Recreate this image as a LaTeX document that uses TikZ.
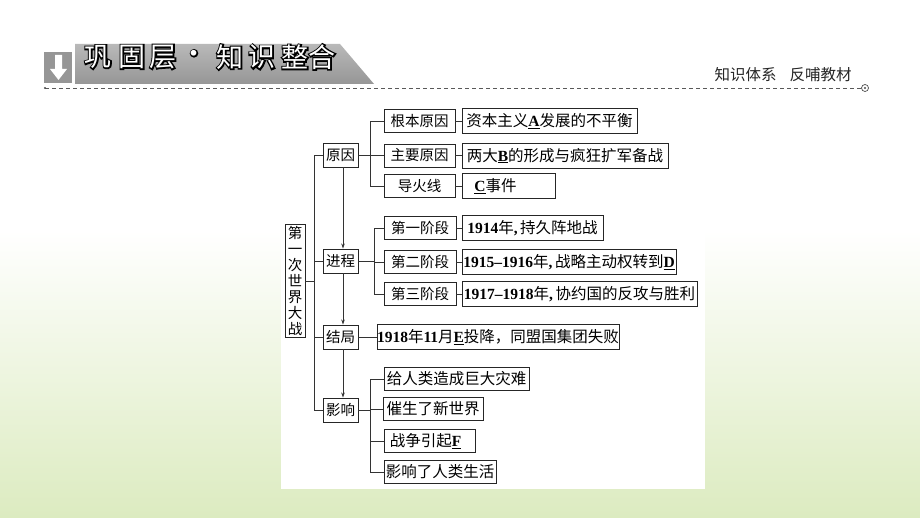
\documentclass[tikz,border=0pt]{standalone}
\usepackage{fontspec}
\setmainfont{Noto Sans CJK SC}
\newfontfamily\srf{Liberation Serif}
\newfontfamily\hdb[FakeBold=10]{Noto Sans CJK SC}
\newfontfamily\hdw{Noto Sans CJK SC}
\usetikzlibrary{arrows.meta}
\newcommand\ls[1]{{\srf\bfseries #1}}
\definecolor{bgG}{RGB}{220,235,192}
\definecolor{bnA}{RGB}{185,185,185}
\definecolor{bnB}{RGB}{150,150,150}
\tikzset{
  bx/.style={draw=black!85, line width=0.9pt, fill=white, inner sep=0pt, font=\fontsize{14.5}{16}\selectfont},
  dt/.style={bx, font=\fontsize{15.5}{17}\selectfont},
  ln/.style={draw=black!80, line width=0.8pt},
  arr/.style={ln, -{Stealth[length=5pt,width=3.5pt]}},
  hdc/.style={inner sep=0pt, font=\fontsize{27}{30}\selectfont}
}
\begin{document}
\begin{tikzpicture}[x=1pt,y=-1pt]
\useasboundingbox (0,0) rectangle (920,518);
% background
\fill[white] (0,0) rectangle (920,518);
\shade[top color=white, bottom color=bgG] (0,230) rectangle (920,518);
\fill[white] (281,100) rectangle (705,489);

% header
\fill[bnB] (44,52) rectangle (72,83);
\fill[white] (55,55) rectangle (62,69) (50,69) -- (67,69) -- (58.5,80) -- cycle;
\shade[top color=bnA, bottom color=bnB] (75,44) -- (340,44) -- (374,84) -- (75,84) -- cycle;
\foreach \c/\x in {巩/98,固/132,层/163,·/194,知/230,识/262,整/295,合/322}{
  \node[hdc, text=black] (hb\x) at (\x,57) {\hdb \c};
  \node[hdc, text=white] (hw\x) at (\x,57) {\hdw \c};
}
\node[inner sep=0pt, text=black!85, font=\fontsize{15.5}{17}\selectfont] (hr) at (783,75) {知识体系\hspace{13pt}反哺教材};
\coordinate (dl) at (45,88);
\coordinate (dr) at (861,88);
\draw[black!65, line width=0.8pt, dash pattern=on 4pt off 3pt] (dl) -- (dr);
\fill[black!70] (dl) circle (1.2);
\draw[black!70, line width=0.7pt] (865,88) circle (3.5);
\fill[black!70] (865,88) circle (1.2);

% diagram nodes
\node[bx, minimum width=20, minimum height=113, align=center, font=\fontsize{14.5}{15.9}\selectfont] (root) at (295,281) {第\\一\\次\\世\\界\\大\\战};
\node[bx, minimum width=35, minimum height=24] (yy) at (340.5,155) {原因};
\node[bx, minimum width=35, minimum height=24] (jc) at (340.5,261) {进程};
\node[bx, minimum width=35, minimum height=24] (jg) at (340.5,337) {结局};
\node[bx, minimum width=35, minimum height=24] (yx) at (340.5,410) {影响};

\node[bx, minimum width=71, minimum height=23] (gb) at (419.5,121) {根本原因};
\node[bx, minimum width=71, minimum height=23] (zy) at (419.5,155.5) {主要原因};
\node[bx, minimum width=71, minimum height=23] (dh) at (419.5,186) {导火线};
\node[bx, minimum width=72, minimum height=23] (d1) at (420,228) {第一阶段};
\node[bx, minimum width=72, minimum height=23] (d2) at (420,262) {第二阶段};
\node[bx, minimum width=72, minimum height=23] (d3) at (420,294) {第三阶段};

\node[dt, minimum width=175, minimum height=25] (zA) at (549.5,121) {资本主义\ls{\underline{A}}发展的不平衡};
\node[dt, minimum width=206, minimum height=25] (zB) at (565,155.5) {两大\ls{\underline{B}}的形成与疯狂扩军备战};
\node[dt, minimum width=93, minimum height=25] (zC) at (508.5,186) {\ls{\underline{C}}事件\hspace*{26pt}};
\node[dt, minimum width=141, minimum height=25] (p1) at (532.5,228) {\ls{1914}年\ls{,\,}持久阵地战};
\node[dt, minimum width=214, minimum height=25] (p2) at (569,262) {\ls{1915–1916}年\ls{,\,}战略主动权转到\ls{\underline{D}}};
\node[dt, minimum width=235, minimum height=25] (p3) at (579.5,294) {\ls{1917–1918}年\ls{,\,}协约国的反攻与胜利};
\node[dt, minimum width=242, minimum height=25] (jj) at (498,337) {\ls{1918}年\ls{11}月\ls{\underline{E}}投降，同盟国集团失败};

\node[dt, minimum width=145, minimum height=23] (e1) at (456.5,379) {给人类造成巨大灾难};
\node[dt, minimum width=100, minimum height=23] (e2) at (433,409) {催生了新世界};
\node[dt, minimum width=91, minimum height=23] (e3) at (429.5,441) {战争引起\ls{\underline{F}}\hspace*{8pt}};
\node[dt, minimum width=112, minimum height=23] (e4) at (440,472) {影响了人类生活};

% connectors
\coordinate (tr) at (314,0);
\coordinate (b1) at (370,0);
\coordinate (b2) at (374,0);
\coordinate (b3) at (370,0);
\draw[ln] (root.east) -- (tr |- root.east);
\draw[ln] (yy.west) -- (tr |- yy.west) -- (tr |- yx.west) -- (yx.west);
\draw[ln] (jc.west) -- (tr |- jc.west);
\draw[ln] (jg.west) -- (tr |- jg.west);

\draw[ln] (yy.east) -- (b1 |- yy.east);
\draw[ln] (gb.west) -- (b1 |- gb.west) -- (b1 |- dh.west) -- (dh.west);
\draw[ln] (zy.west) -- (b1 |- zy.west);

\draw[ln] (jc.east) -- (b2 |- jc.east);
\draw[ln] (d1.west) -- (b2 |- d1.west) -- (b2 |- d3.west) -- (d3.west);
\draw[ln] (d2.west) -- (b2 |- d2.west);

\draw[ln] (yx.east) -- (b3 |- yx.east);
\draw[ln] (e1.west) -- (b3 |- e1.west) -- (b3 |- e4.west) -- (e4.west);
\draw[ln] (e2.west) -- (b3 |- e2.west);
\draw[ln] (e3.west) -- (b3 |- e3.west);

\draw[ln] (gb.east) -- (zA.west);
\draw[ln] (zy.east) -- (zB.west);
\draw[ln] (dh.east) -- (zC.west);
\draw[ln] (d1.east) -- (p1.west);
\draw[ln] (d2.east) -- (p2.west);
\draw[ln] (d3.east) -- (p3.west);
\draw[ln] (jg.east) -- (jj.west);

\draw[arr] ([xshift=2.5pt]yy.south) -- ([xshift=2.5pt]jc.north);
\draw[arr] ([xshift=2.5pt]jc.south) -- ([xshift=2.5pt]jg.north);
\draw[arr] ([xshift=2.5pt]jg.south) -- ([xshift=2.5pt]yx.north);
\end{tikzpicture}
\end{document}
